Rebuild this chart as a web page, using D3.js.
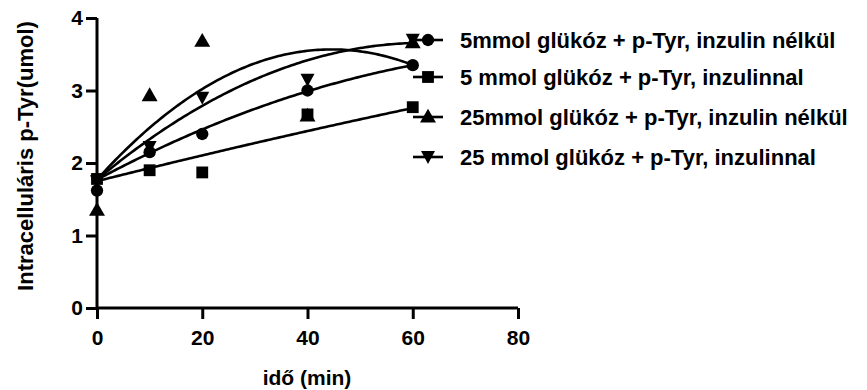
<!DOCTYPE html>
<html><head><meta charset="utf-8">
<script src="https://cdn.jsdelivr.net/npm/d3@7"></script>
<style>body{margin:0;background:#fff}svg{display:block}text{font-family:"Liberation Sans",Arial,sans-serif;font-weight:bold;fill:#000}</style>
</head><body><svg id="c" width="867" height="390"></svg>
<script>
const seriesNames = ["5mmol glükóz + p-Tyr, inzulin nélkül","5 mmol glükóz + p-Tyr, inzulinnal","25mmol glükóz + p-Tyr, inzulin nélkül","25 mmol glükóz + p-Tyr, inzulinnal"];
const symbols = ["circle","square","triangle","triangleDown"];
const times = [0,10,20,40,60];
const circleVals = [1.62,2.15,2.40,3.00,3.35];
const squareVals = [1.78,1.90,1.87,2.67,2.77];
const triangleVals = [1.35,2.93,3.68,2.65,3.66];
const triDownVals = [1.75,2.22,2.90,3.15,3.70];
// fitted curves (quadratic: a + b t + c t^2)
const fitA = [1.77,1.75,1.77,1.77];
const fitB = [0.0388,0.0182,0.0806,0.0607];
const fitC = [-0.000208,-0.0000233,-0.000904,-0.000488];
const xTicks = [0,20,40,60,80];
const yTicks = [0,1,2,3,4];

const svg = d3.select("#c");
const x = d3.scaleLinear().domain([0,80]).range([97,518]);
const y = d3.scaleLinear().domain([0,4]).range([308,18]);
const vals = [circleVals,squareVals,triangleVals,triDownVals];

// axes
const xa = svg.append("g").attr("transform","translate(0,308)")
  .call(d3.axisBottom(x).tickValues(xTicks).tickFormat(d3.format("d")).tickSize(11).tickPadding(11).tickSizeOuter(0));
const ya = svg.append("g").attr("transform","translate(97,0)")
  .call(d3.axisLeft(y).tickValues(yTicks).tickFormat(d3.format("d")).tickSize(11).tickPadding(3).tickSizeOuter(0));
[xa,ya].forEach(g=>{
  g.attr("font-family",null).attr("font-size",null);
  g.select(".domain").attr("stroke","#000").attr("stroke-width",3);
  g.selectAll(".tick line").attr("stroke","#000").attr("stroke-width",3);
  g.selectAll(".tick text").style("font-size","21px").style("font-weight","bold").attr("fill","#000");
});
ya.select(".domain").attr("d","M0,"+y(4)+"V"+y(0));
xa.select(".domain").attr("d","M"+x(0)+",0H"+x(80));

svg.append("text").attr("x",307).attr("y",385).attr("text-anchor","middle").style("font-size","21px").text("idő (min)");
svg.append("text").attr("transform","translate(33,156) rotate(-90)").attr("text-anchor","middle").style("font-size","22px").text("Intracelluláris p-Tyr(umol)");

// fit curves
const line = d3.line().x(d=>x(d[0])).y(d=>y(d[1]));
const tSamples = d3.range(0,60.01,0.5);
vals.forEach((v,i)=>{
  const pts = tSamples.map(t=>[t, fitA[i]+fitB[i]*t+fitC[i]*t*t]);
  svg.append("path").attr("d",line(pts)).attr("fill","none").attr("stroke","#000").attr("stroke-width",2.6);
});

function sym(kind){
  if(kind==="circle") return d3.symbol(d3.symbolCircle,120)();
  if(kind==="square") return d3.symbol(d3.symbolSquare,140)();
  if(kind==="triangle") return d3.symbol(d3.symbolTriangle,110)();
  return "M-7,-6L7,-6L0,7Z";
}
// points
vals.forEach((v,i)=>{
  svg.append("g").selectAll("path").data(times.map((t,j)=>[t,v[j]])).join("path")
    .attr("d",sym(symbols[i])).attr("fill","#000")
    .attr("transform",d=>`translate(${x(d[0])},${y(d[1]) + (symbols[i]==="triangle"?1:0)})`);
});

// legend
const legY = [40,77,117,157];
seriesNames.forEach((n,i)=>{
  const g = svg.append("g").attr("transform",`translate(0,${legY[i]})`);
  g.append("line").attr("x1",413).attr("x2",443).attr("y1",0).attr("y2",0).attr("stroke","#000").attr("stroke-width",2.6);
  g.append("path").attr("d",sym(symbols[i])).attr("fill","#000").attr("transform",`translate(428,${symbols[i]==="triangle"?1:0})`);
  g.append("text").attr("x",460).attr("y",8).style("font-size","22px").text(n);
});
</script></body></html>
